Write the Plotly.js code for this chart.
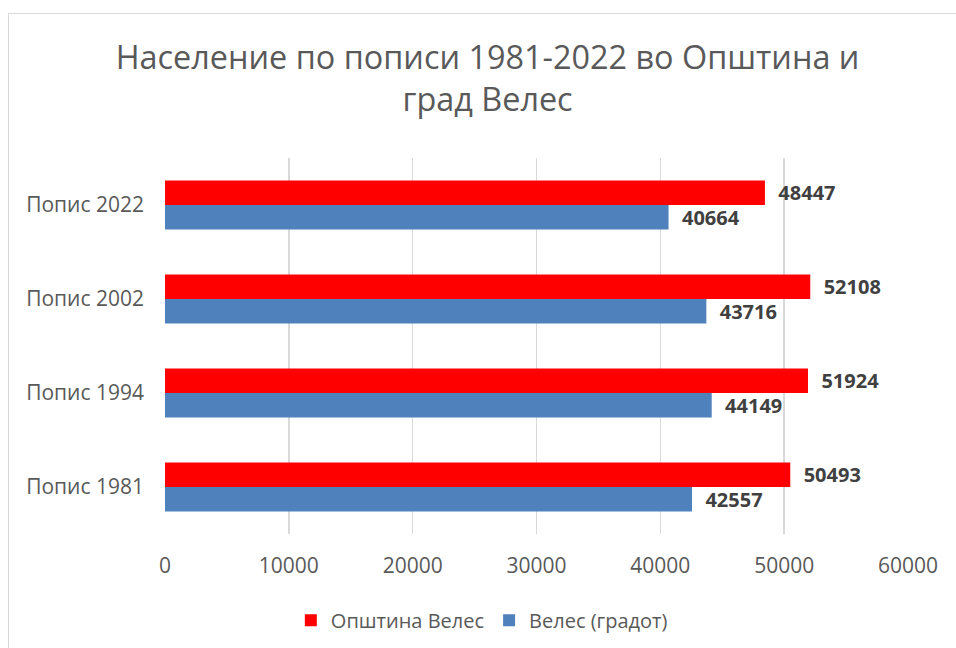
<!DOCTYPE html>
<html>
<head>
<meta charset="utf-8">
<script src="https://cdn.plot.ly/plotly-3.0.1.min.js"></script>
<style>
html,body{margin:0;padding:0;background:#fff;overflow:hidden;}
#chart{width:956px;height:648px;}
#frame{position:absolute;left:8px;top:13px;width:1000px;height:700px;border:1.5px solid #d9d9d9;pointer-events:none;}
</style>
</head>
<body>
<div id="chart"></div>
<div id="frame"></div>
<script>
const categories = ["Попис 1981", "Попис 1994", "Попис 2002", "Попис 2022"];
const municipality = [50493, 51924, 52108, 48447];
const city = [42557, 44149, 43716, 40664];
const seriesNames = ["Општина Велес", "Велес (градот)"];
const xTicks = [0, 10000, 20000, 30000, 40000, 50000, 60000];

const labelFont = {family: "Open Sans, sans-serif", size: 20, color: "#404040", weight: "bold"};

const traces = [
  {
    type: "bar", orientation: "h", name: seriesNames[1],
    y: categories, x: city,
    marker: {color: "#4F81BD"},
    text: city.map(v => "\u00a0\u00a0" + v), textposition: "outside", constraintext: "none",
    textfont: labelFont, cliponaxis: false, legendrank: 2,
    hoverinfo: "x+name"
  },
  {
    type: "bar", orientation: "h", name: seriesNames[0],
    y: categories, x: municipality,
    marker: {color: "#FF0000"},
    text: municipality.map(v => "\u00a0\u00a0" + v), textposition: "outside", constraintext: "none",
    textfont: labelFont, cliponaxis: false, legendrank: 1,
    hoverinfo: "x+name"
  }
];

const layout = {
  width: 956, height: 648,
  margin: {l: 165, r: 48, t: 158, b: 114},
  paper_bgcolor: "#ffffff", plot_bgcolor: "#ffffff",
  font: {family: "Open Sans, sans-serif", color: "#595959", size: 21},
  title: {
    text: "Население по пописи 1981-2022 во Општина и<br>град Велес",
    font: {family: "Open Sans, sans-serif", size: 32.4, color: "#595959"},
    x: 0.51, xref: "container", xanchor: "center",
    y: 0.893, yref: "container", yanchor: "top"
  },
  barmode: "group", bargap: 0.48, bargroupgap: 0,
  xaxis: {
    range: [0, 60000], tickvals: xTicks, ticktext: xTicks.map(String),
    showgrid: true, gridcolor: "#d9d9d9", gridwidth: 1.5,
    zeroline: false, showline: false, ticks: "",
    ticklabelstandoff: 17, fixedrange: true
  },
  yaxis: {
    type: "category", categoryorder: "array", categoryarray: categories,
    showgrid: false, zeroline: false, showline: false, ticks: "",
    ticklabelstandoff: 20, fixedrange: true
  },
  showlegend: true,
  legend: {
    orientation: "h", xref: "container", yref: "container",
    x: 0.504, xanchor: "center", y: 0.043, yanchor: "middle",
    font: {size: 20, color: "#595959"}, itemwidth: 30
  }
};

Plotly.newPlot("chart", traces, layout, {displayModeBar: false, staticPlot: true});
</script>
</body>
</html>
